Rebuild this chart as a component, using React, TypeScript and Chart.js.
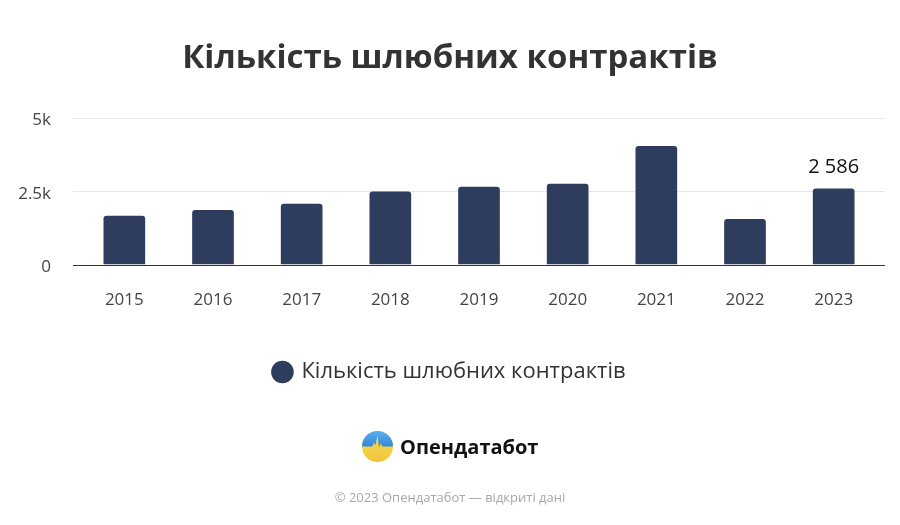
import React, { useEffect, useRef } from "react";
import { Chart, registerables } from "chart.js";

Chart.register(...registerables);

const categories = ["2015", "2016", "2017", "2018", "2019", "2020", "2021", "2022", "2023"];
const contracts = [1660, 1860, 2070, 2490, 2650, 2750, 4030, 1550, 2586];
const labelledIndexes = [8];
const yTickValues = [0, 2500, 5000];
const yTickLabels = ["0", "2.5k", "5k"];
const seriesName = "Кількість шлюбних контрактів";
const titleText = "Кількість шлюбних контрактів";
const brandName = "Опендатабот";
const footerText = "© 2023 Опендатабот — відкриті дані";

const BAR_COLOR = "#2e3c5e";
const FONT = "'Open Sans', 'Noto Sans', sans-serif";

const fmt = (v: number) => String(v).replace(/\B(?=(\d{3})+(?!\d))/g, " ");

const gridPlugin = {
  id: "customGrid",
  beforeDatasetsDraw(chart: any) {
    const { ctx, chartArea, scales } = chart;
    const y = scales.y;
    ctx.save();
    yTickValues.forEach((v) => {
      const py = Math.round(y.getPixelForValue(v)) + 0.5;
      ctx.beginPath();
      ctx.moveTo(chartArea.left - 7, py);
      ctx.lineTo(chartArea.right + 7, py);
      ctx.lineWidth = 1;
      ctx.strokeStyle = v === 0 ? "#333333" : "#e6e6e6";
      ctx.stroke();
    });
    ctx.restore();
  },
};

const valueLabelPlugin = {
  id: "valueLabels",
  afterDatasetsDraw(chart: any) {
    const { ctx } = chart;
    const meta = chart.getDatasetMeta(0);
    ctx.save();
    ctx.font = `20px ${FONT}`;
    ctx.fillStyle = "#111111";
    ctx.textAlign = "center";
    ctx.textBaseline = "middle";
    labelledIndexes.forEach((i) => {
      const el = meta.data[i];
      ctx.fillText(fmt(contracts[i]), el.x, el.y - 21);
    });
    ctx.restore();
  },
};

function ChartCanvas() {
  const ref = useRef<HTMLCanvasElement | null>(null);
  useEffect(() => {
    if (!ref.current) return;
    const chart = new Chart(ref.current, {
      type: "bar",
      data: {
        labels: categories,
        datasets: [
          {
            label: seriesName,
            data: contracts,
            backgroundColor: BAR_COLOR,
            borderRadius: { topLeft: 3, topRight: 3, bottomLeft: 0, bottomRight: 0 },
            borderSkipped: "bottom",
            barPercentage: 0.47,
            categoryPercentage: 1,
            yAxisID: "y",
          },
        ],
      },
      options: {
        responsive: false,
        animation: false,
        layout: { padding: { left: 0, right: 0, top: 0, bottom: 132 } },
        scales: {
          x: {
            grid: { display: false, drawTicks: false },
            border: { display: false },
            ticks: { color: "#444444", font: { family: FONT, size: 17 }, padding: 25 },
          },
          y: {
            position: "left",
            min: 0,
            max: 5000,
            afterFit(scale: any) {
              scale.width = 80;
            },
            afterBuildTicks(scale: any) {
              scale.ticks = yTickValues.map((v) => ({ value: v }));
            },
            grid: { display: false, drawTicks: false },
            border: { display: false },
            ticks: {
              color: "#444444",
              font: { family: FONT, size: 17 },
              padding: 29,
              labelOffset: 3,
              callback: (v: any) => {
                const i = yTickValues.indexOf(Number(v));
                return i >= 0 ? yTickLabels[i] : "";
              },
            },
          },
          yRight: {
            position: "right",
            display: true,
            min: 0,
            max: 5000,
            afterFit(scale: any) {
              scale.width = 22;
            },
            grid: { display: false, drawTicks: false },
            border: { display: false },
            ticks: { display: false },
          },
        },
        plugins: {
          title: {
            display: true,
            text: titleText,
            color: "#333333",
            font: { family: FONT, size: 33, weight: "bold" },
            padding: { top: 39, bottom: 39 },
          },
          legend: {
            display: true,
            position: "bottom",
            labels: {
              usePointStyle: true,
              pointStyle: "circle",
              boxWidth: 16,
              boxHeight: 16,
              color: "#333333",
              font: { family: FONT, size: 22 },
              padding: 26,
            },
          },
          tooltip: { enabled: false },
        },
      },
      plugins: [gridPlugin, valueLabelPlugin],
    });
    return () => chart.destroy();
  }, []);
  return <canvas ref={ref} width={900} height={525} style={{ position: "absolute", left: 0, top: 0 }} />;
}

function Logo() {
  return (
    <div
      style={{
        position: "absolute",
        left: 362,
        top: 429,
        height: 34,
        display: "flex",
        alignItems: "center",
        fontFamily: FONT,
      }}
    >
      <svg width="31" height="31" viewBox="0 0 30 30">
        <defs>
          <clipPath id="lc">
            <circle cx="15" cy="15" r="15" />
          </clipPath>
          <linearGradient id="lb" x1="0" y1="0" x2="0" y2="1">
            <stop offset="0" stopColor="#5aaef0" />
            <stop offset="1" stopColor="#2f86d8" />
          </linearGradient>
          <linearGradient id="ly" x1="0" y1="0" x2="0" y2="1">
            <stop offset="0" stopColor="#f7dc5a" />
            <stop offset="1" stopColor="#f0c53c" />
          </linearGradient>
        </defs>
        <g clipPath="url(#lc)">
          <rect x="0" y="0" width="30" height="30" fill="url(#ly)" />
          <path d="M0 0 H30 V15 H20 L18 12 L16.5 16 L15 4 L13 14 L11.5 11 L10 15 H0 Z" fill="url(#lb)" />
        </g>
      </svg>
      <span style={{ marginLeft: 7, fontSize: 20, fontWeight: 700, color: "#111111" }}>{brandName}</span>
    </div>
  );
}

export default function App() {
  return (
    <div
      style={{
        position: "fixed",
        left: 0,
        top: 0,
        width: 900,
        height: 525,
        background: "#ffffff",
        overflow: "hidden",
      }}
    >
      <ChartCanvas />
      <Logo />
      <div
        style={{
          position: "absolute",
          left: 0,
          width: 900,
          top: 488,
          textAlign: "center",
          fontFamily: FONT,
          fontSize: 13,
          color: "#a8a8a8",
        }}
      >
        {footerText}
      </div>
    </div>
  );
}
